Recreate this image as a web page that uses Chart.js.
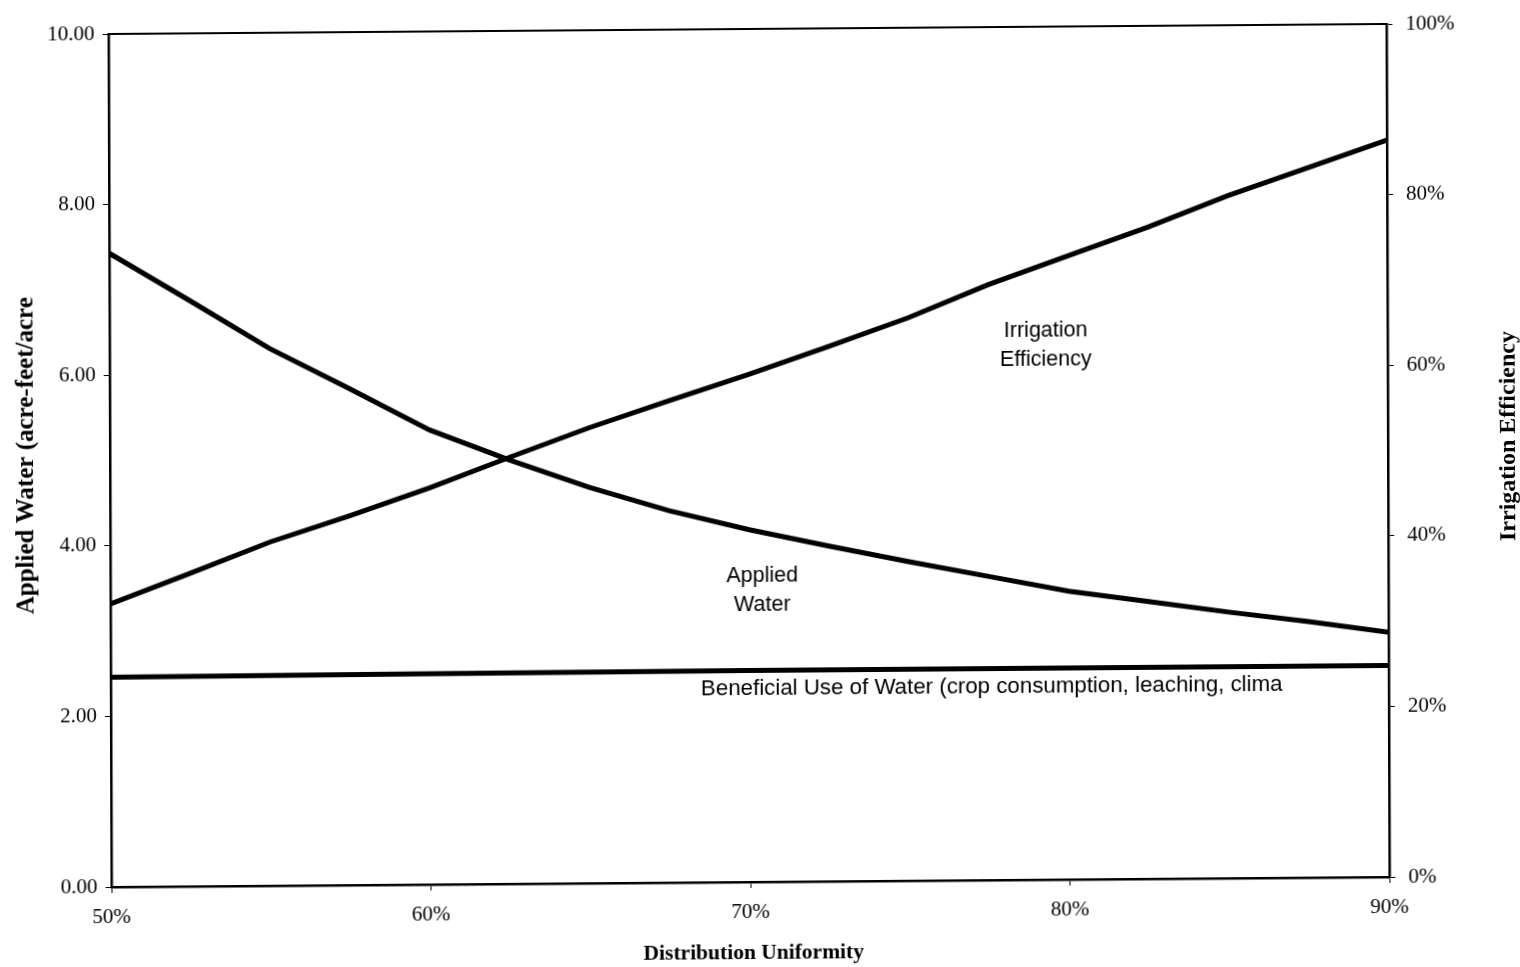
<!DOCTYPE html>
<html>
<head>
<meta charset="utf-8">
<script src="https://cdn.jsdelivr.net/npm/chart.js@4"></script>
<style>
  html, body { margin: 0; padding: 0; background: #ffffff; }
  #wrap { position: relative; width: 1520px; height: 967px; transform: skew(0.2deg, -0.45deg); transform-origin: 748px 455px; }
  canvas { display: block; }
</style>
</head>
<body>
<div id="wrap"><canvas id="c" width="1520" height="967"></canvas></div>
<script>
// Distribution uniformity (%)
const uniformity = [50, 52.5, 55, 57.5, 60, 62.5, 65, 67.5, 70, 72.5, 75, 77.5, 80, 82.5, 85, 87.5, 90];
// Applied water (acre-feet/acre) - left axis
const appliedWater = [7.43, 6.87, 6.30, 5.82, 5.33, 4.97, 4.64, 4.36, 4.13, 3.93, 3.74, 3.56, 3.38, 3.25, 3.12, 3.00, 2.87];
// Irrigation efficiency (%) - right axis
const irrigationEfficiency = [33.2, 36.7, 40.3, 43.3, 46.5, 50.0, 53.4, 56.5, 59.5, 62.7, 66.0, 69.8, 73.1, 76.4, 80.0, 83.2, 86.4];
// Beneficial use of water (acre-feet/acre) - left axis
const beneficialX = [50, 60, 70, 80, 90];
const beneficialUse = [2.46, 2.47, 2.48, 2.48, 2.48];

// Axis ranges / tick steps
const leftAxis = { min: 0, max: 10, step: 2 };
const rightAxis = { min: 0, max: 100, step: 20 };
const xAxis = { min: 50, max: 90, step: 10 };

// In-chart text labels (x in %, y in left-axis units)
const labelTexts = [["Irrigation", "Efficiency"], ["Applied", "Water"], ["Beneficial Use of Water (crop consumption, leaching, clima"]];
const labelX = [79.3, 70.4, 68.47];
const labelY = [6.27, 3.42, 2.26];
const labelAlign = ["center", "center", "left"];
const labelSize = [21.5, 21.5, 22.3];

const titleLeft = "Applied Water (acre-feet/acre";
const titleRight = "Irrigation Efficiency";
const titleX = "Distribution Uniformity";

const serif = "'Liberation Serif', 'Times New Roman', serif";
const sans = "'Liberation Sans', Arial, sans-serif";

const pts = (xs, ys) => xs.map((x, i) => ({ x: x, y: ys[i] }));

const extras = {
  id: 'extras',
  afterDraw(chart) {
    const ctx = chart.ctx;
    const a = chart.chartArea;
    const xs = chart.scales.x, ys = chart.scales.y;
    ctx.save();
    // top border of the plot box
    ctx.strokeStyle = '#000';
    ctx.lineWidth = 2;
    ctx.beginPath();
    ctx.moveTo(a.left, a.top);
    ctx.lineTo(a.right, a.top);
    ctx.stroke();

    // in-plot labels
    ctx.fillStyle = '#000';
    ctx.textBaseline = 'middle';
    labelTexts.forEach((lines, i) => {
      ctx.font = labelSize[i] + 'px ' + sans;
      const px = xs.getPixelForValue(labelX[i]);
      const py = ys.getPixelForValue(labelY[i]);
      ctx.textAlign = labelAlign[i];
      const lh = 29;
      const start = py - (lines.length - 1) * lh / 2;
      lines.forEach((t, k) => ctx.fillText(t, px, start + k * lh));
    });

    // axis titles
    ctx.textAlign = 'center';
    ctx.textBaseline = 'middle';
    ctx.font = 'bold 25px ' + serif;
    ctx.save();
    ctx.translate(27, 450);
    ctx.rotate(-Math.PI / 2);
    ctx.fillText(titleLeft, 0, 0);
    ctx.restore();

    ctx.font = 'bold 24px ' + serif;
    ctx.save();
    ctx.translate(1509, 442);
    ctx.rotate(-Math.PI / 2);
    ctx.fillText(titleRight, 0, 0);
    ctx.restore();

    ctx.font = 'bold 21.5px ' + serif;
    ctx.fillText(titleX, (a.left + a.right) / 2 + 3, 953);
    ctx.restore();
  }
};

new Chart(document.getElementById('c'), {
  type: 'line',
  data: {
    datasets: [
      { label: 'Applied Water', data: pts(uniformity, appliedWater), yAxisID: 'y', borderColor: '#000', borderWidth: 5, pointRadius: 0, tension: 0, fill: false },
      { label: 'Irrigation Efficiency', data: pts(uniformity, irrigationEfficiency), yAxisID: 'y1', borderColor: '#000', borderWidth: 5, pointRadius: 0, tension: 0, fill: false },
      { label: 'Beneficial Use of Water', data: pts(beneficialX, beneficialUse), yAxisID: 'y', borderColor: '#000', borderWidth: 5, pointRadius: 0, tension: 0, fill: false }
    ]
  },
  options: {
    responsive: false,
    animation: false,
    devicePixelRatio: 1,
    layout: { padding: { top: 29, left: 0, right: 0, bottom: 0 } },
    plugins: { legend: { display: false }, tooltip: { enabled: false } },
    scales: {
      x: {
        type: 'linear', min: xAxis.min, max: xAxis.max,
        afterFit: s => { s.height = 85; },
        ticks: { stepSize: xAxis.step, color: '#000', padding: 12, maxRotation: 0, font: { family: serif, size: 21 }, callback: v => v + '%' },
        grid: { display: true, drawOnChartArea: false, tickLength: 6, color: '#000', lineWidth: 1 },
        border: { display: true, color: '#000', width: 2.5 }
      },
      y: {
        position: 'left', min: leftAxis.min, max: leftAxis.max,
        afterFit: s => { s.width = 110; },
        ticks: { stepSize: leftAxis.step, color: '#000', padding: 8, font: { family: serif, size: 21 }, callback: v => Number(v).toFixed(2) },
        grid: { display: true, drawOnChartArea: false, tickLength: 6, color: '#000', lineWidth: 1 },
        border: { display: true, color: '#000', width: 2.5 }
      },
      y1: {
        position: 'right', min: rightAxis.min, max: rightAxis.max,
        afterFit: s => { s.width = 132; },
        ticks: { stepSize: rightAxis.step, color: '#000', padding: 13, font: { family: serif, size: 21 }, callback: v => v + '%' },
        grid: { display: true, drawOnChartArea: false, tickLength: 6, color: '#000', lineWidth: 1 },
        border: { display: true, color: '#000', width: 2.5 }
      }
    }
  },
  plugins: [extras]
});
</script>
</body>
</html>
